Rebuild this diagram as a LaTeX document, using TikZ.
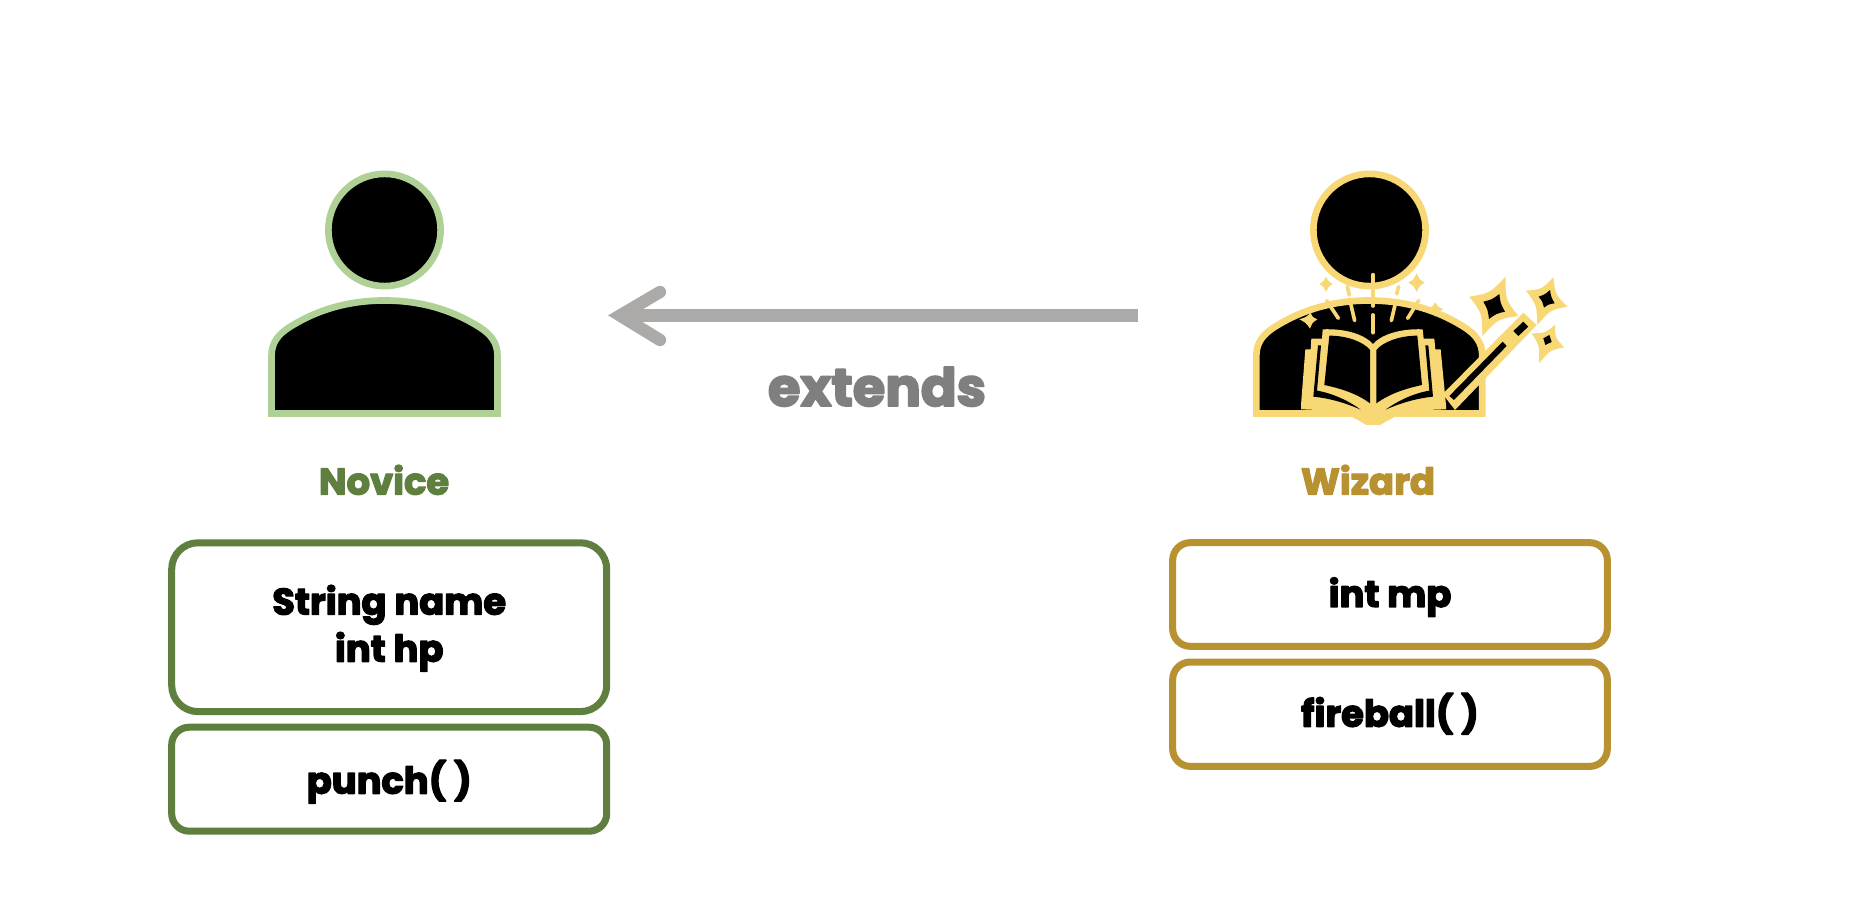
\documentclass[tikz,border=0pt]{standalone}
\usepackage{fontspec}
\setmainfont{Poppins}[BoldFeatures={FakeBold=3.5}]
\usetikzlibrary{calc}
\definecolor{novlight}{HTML}{B0D196}
\definecolor{novdark}{HTML}{5F7F3F}
\definecolor{wizlight}{HTML}{F8D875}
\definecolor{wizdark}{HTML}{B89230}
\definecolor{arrowgray}{HTML}{ABAAA8}
\definecolor{labelgray}{HTML}{7F7F7F}
\newcommand\spk[7]{% colour, k, p1..p4, centre
  \fill[#1] (#3) .. controls ($(#3)!.5!(#4)!#2!(#7)$) .. (#4)
    .. controls ($(#4)!.5!(#5)!#2!(#7)$) .. (#5)
    .. controls ($(#5)!.5!(#6)!#2!(#7)$) .. (#6)
    .. controls ($(#6)!.5!(#3)!#2!(#7)$) .. cycle;}
\newcommand\bodypath[1]{%
  \draw[bodyline,draw=#1] (271.5,413.5) -- (271.5,356)
    .. controls (271.5,342) and (279,334) .. (289,327.5)
    .. controls (318,309) and (350,300.5) .. (384.5,300.5)
    .. controls (419,300.5) and (451,309) .. (480,327.5)
    .. controls (490,334) and (497.5,342) .. (497.5,356)
    -- (497.5,413.5) -- cycle;}
\tikzset{
  headshape/.style={circle,fill=black,line width=3.8pt,inner sep=0pt,minimum size=63.9pt},
  bodyline/.style={fill=black,line width=3.8pt,line join=miter},
  classbox/.style={rectangle,rounded corners=#1,line width=4pt,inner sep=0pt,fill=white,text=black,align=center,font=\boxfont},
  classname/.style={anchor=base,font=\namefont},
  ray/.style={draw=wizlight,line width=2.1pt,line cap=round},
}
\newcommand\boxfont{\fontsize{21pt}{26.8pt}\bfseries\selectfont}
\newcommand\namefont{\fontsize{21pt}{26pt}\bfseries\selectfont}
\begin{document}
\begin{tikzpicture}[x=0.02cm,y=-0.02cm,line join=round]
\useasboundingbox (0,0) rectangle (1864,918);
\fill[white] (0,0) rectangle (1864,918);

% Novice
\node[headshape,draw=novlight] (novhead) at (384.5,230) {};
\bodypath{novlight}
\node[classname,text=novdark] (novname) at (384,494.5) {Novice};
\node[classbox=15pt,draw=novdark,minimum width=247.6pt,minimum height=96.1pt] (novfields) at (389.2,627.2) {\rule{0pt}{18pt}String name\\int hp};
\node[classbox=10pt,draw=novdark,minimum width=247.6pt,minimum height=59.2pt,text height=16.4pt,text depth=0pt] (novmethods) at (389.2,779.2) {punch( )};

% Wizard
\node[headshape,draw=wizlight] (wizhead) at (1369.5,230) {};
\begin{scope}[xshift=19.7cm]\bodypath{wizlight}\end{scope}
\node[classname,text=wizdark] (wizname) at (1368,494.5) {Wizard};
\node[classbox=10pt,draw=wizdark,minimum width=247.4pt,minimum height=59pt,text height=14.2pt,text depth=0pt] (wizfields) at (1390,594.5) {int mp};
\node[classbox=10pt,draw=wizdark,minimum width=247.4pt,minimum height=59.4pt,text height=14.2pt,text depth=0pt] (wizmethods) at (1390,714.2) {fireball( )};

% Arrow
\coordinate (arrowstart) at (1138,315.5);
\coordinate (arrowtip) at (620,315.5);
\coordinate (barbup) at (660,292);
\coordinate (barblow) at (660,340);
\draw[arrowgray,line width=7pt] (arrowstart) -- (arrowtip);
\draw[arrowgray,line width=7pt,line cap=round,line join=miter] (barbup) -- (arrowtip) -- (barblow);
\node[anchor=base,text=labelgray,font=\fontsize{30pt}{34pt}\bfseries\selectfont] (extendslabel) at (877,406) {extends};

% Wizard decoration, coordinates taken at three times the size
\begin{scope}[shift={(1290,270)},x=0.0066667cm,y=-0.0066667cm]
  % rays
  \draw[ray] (249,14) -- (249,108);
  \draw[ray] (249,135) -- (249,188);
  \draw[ray] (172,50) -- (178,75);
  \draw[ray] (183,105) -- (194,152);
  \draw[ray] (326,50) -- (320,72);
  \draw[ray] (315,105) -- (304,152);
  \draw[ray] (110,92) -- (145,145);
  \draw[ray] (386,92) -- (353,145);
  % small sparkles
  \spk{wizlight}{.3}{108,20}{88,42}{108,66}{128,42}{108,42}
  \spk{wizlight}{.3}{380,10}{355,38}{380,66}{404,38}{380,38}
  \spk{wizlight}{.3}{62,128}{28,148}{60,176}{82,148}{57,150}
  \spk{wizlight}{.3}{435,97}{414,118}{435,140}{460,118}{436,118}
  % book
  \fill[wizlight] (33,405) -- (46,238) -- (62,238) -- (64,206) -- (96,206) -- (98,178)
     .. controls (170,175) and (225,195) .. (249,222)
     .. controls (272,195) and (330,175) .. (398,178)
     -- (401,206) -- (433,206) -- (436,238) -- (452,238) -- (468,405) -- (468,418) -- (380,421)
     -- (315,440) -- (270,465) -- (230,465) -- (185,440) -- (110,421) -- (33,418) -- cycle;
  \fill[black] (118,197) .. controls (170,197) and (220,215) .. (240,240) -- (240,400)
     .. controls (200,370) and (150,355) .. (103,345) -- cycle;
  \fill[black] (382,197) .. controls (330,197) and (280,215) .. (259,240) -- (259,400)
     .. controls (300,370) and (350,355) .. (396,345) -- cycle;
  \fill[black] (84,226) -- (93,226) -- (81,362) .. controls (130,370) and (180,395) .. (212,419)
     .. controls (170,400) and (120,385) .. (70,380) -- cycle;
  \fill[black] (415,226) -- (406,226) -- (418,362) .. controls (369,370) and (319,395) .. (287,419)
     .. controls (329,400) and (379,385) .. (429,380) -- cycle;
\end{scope}
\begin{scope}[shift={(1440,270)},x=0.0066667cm,y=-0.0066667cm]
  % sparkles beside the wand
  \spk{wizlight}{.35}{197,20}{88,80}{127,198}{235,138}{160,108}
  \spk{black}{.2}{130,95}{178,72}{195,125}{147,147}{162,110}
  \spk{wizlight}{.35}{340,22}{258,62}{292,165}{382,110}{318,88}
  \spk{black}{.2}{296,80}{330,60}{344,100}{312,113}{320,87}
  \spk{wizlight}{.35}{345,165}{275,190}{297,280}{372,232}{322,212}
  \spk{black}{.2}{310,205}{328,195}{335,216}{316,225}{322,210}
  % wand
  \fill[wizlight] (250,128) -- (290,165) -- (45,420) -- (8,372) -- cycle;
  \fill[black] (28,378) -- (188,215) -- (200,228) -- (42,390) -- cycle;
  \fill[black] (220,183) -- (250,155) -- (265,170) -- (235,198) -- cycle;
\end{scope}
\end{tikzpicture}
\end{document}
